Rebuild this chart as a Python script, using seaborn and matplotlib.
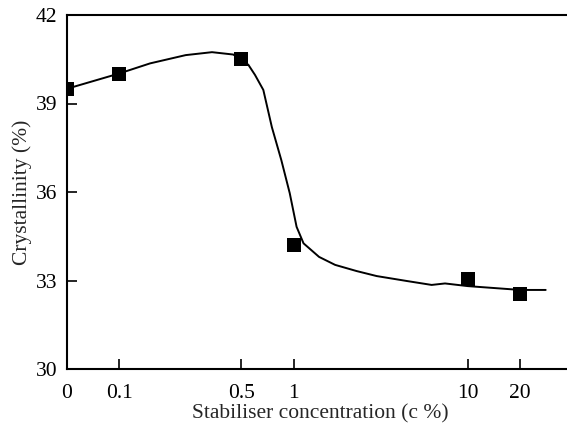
import matplotlib
matplotlib.use("Agg")
import matplotlib.pyplot as plt
import seaborn as sns
import pandas as pd
from matplotlib.ticker import NullLocator

# Measured points (x position 0.05 stands for the "0" concentration on the log axis)
conc_pos = [0.05, 0.1, 0.5, 1, 10, 20]
conc_labels = ["0", "0.1", "0.5", "1", "10", "20"]
crystallinity = [39.5, 40.0, 40.5, 34.2, 33.05, 32.55]

# Fitted curve
curve_x = [0.05, 0.1, 0.15, 0.24, 0.34, 0.45, 0.5, 0.55, 0.6, 0.67, 0.75, 0.85, 0.95, 1.04, 1.14,
           1.4, 1.73, 2.3, 3.0, 4.5, 6.2, 7.4, 10, 20, 28]
curve_y = [39.5, 40.02, 40.36, 40.64, 40.74, 40.66, 40.5, 40.31, 39.97, 39.46, 38.2, 37.08, 35.96, 34.82, 34.26,
           33.8, 33.53, 33.32, 33.15, 32.98, 32.85, 32.9, 32.81, 32.68, 32.68]

yticks = [30, 33, 36, 39, 42]

sns.set_style("ticks")
plt.rcParams["font.family"] = ["Liberation Serif", "DejaVu Serif"]

fig = plt.figure(figsize=(5.67, 4.28), dpi=100)
ax = fig.add_axes([67 / 567, 59 / 428, 1 - 67 / 567 + 0.01, (369 - 15) / 428])

pts = pd.DataFrame({"x": conc_pos, "y": crystallinity})
curve = pd.DataFrame({"x": curve_x, "y": curve_y})

sns.lineplot(data=curve, x="x", y="y", ax=ax, color="black", linewidth=1.4, sort=False, zorder=2)
sns.scatterplot(data=pts, x="x", y="y", ax=ax, marker="s", s=110, color="black",
                edgecolor="black", linewidth=0, zorder=3)

ax.set_xscale("log")
ax.set_xlim(0.05, 40)
ax.set_ylim(30, 42)
ax.set_xticks(conc_pos)
ax.set_xticklabels(conc_labels)
ax.xaxis.set_minor_locator(NullLocator())
ax.set_yticks(yticks)
ax.set_yticklabels([str(t) for t in yticks])

for side in ["left", "bottom", "top"]:
    ax.spines[side].set_linewidth(1.5)
    ax.spines[side].set_color("black")
ax.spines["right"].set_visible(False)

ax.tick_params(axis="both", direction="in", length=7, width=1.2, labelsize=15.5, colors="black")
ax.tick_params(axis="x", pad=11)
ax.tick_params(axis="y", pad=7)
ax.tick_params(top=False, right=False)

ax.set_xlabel("Stabiliser concentration (c %)", fontsize=15.5, labelpad=1)
ax.set_ylabel("Crystallinity (%)", fontsize=15.5, labelpad=2.5)

fig.savefig("out.png", dpi=100)
